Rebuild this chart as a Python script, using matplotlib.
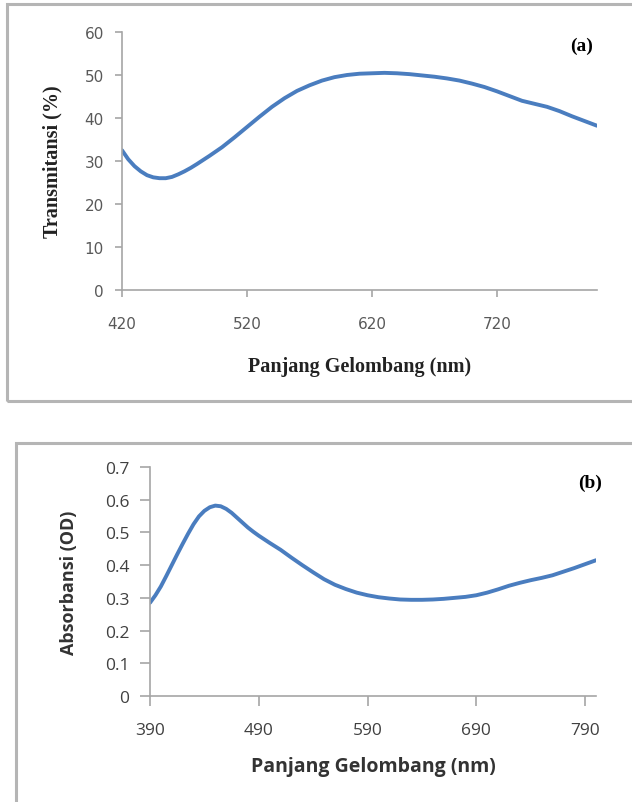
import matplotlib
matplotlib.use("Agg")
from matplotlib import pyplot as plt
from matplotlib.patches import Rectangle

# (a) transmitansi vs panjang gelombang
wl_a = [420, 425, 430, 435, 440, 445, 450, 455, 460, 465, 470, 475, 480, 490,
        500, 510, 520, 530, 540, 550, 560, 570, 580, 590, 600, 610, 620, 630,
        640, 650, 660, 670, 680, 690, 700, 710, 720, 730, 740, 750, 760, 770,
        780, 790, 800]
trans = [32.5, 30.4, 28.8, 27.6, 26.7, 26.2, 26.0, 26.0, 26.3, 26.9, 27.6, 28.4,
         29.3, 31.2, 33.2, 35.5, 37.9, 40.3, 42.6, 44.6, 46.3, 47.6, 48.7, 49.5,
         50.0, 50.3, 50.4, 50.5, 50.4, 50.2, 49.9, 49.6, 49.2, 48.7, 48.0, 47.2,
         46.2, 45.1, 44.0, 43.3, 42.6, 41.6, 40.4, 39.3, 38.2]
xticks_a = [420, 520, 620, 720]
yticks_a = [0, 10, 20, 30, 40, 50, 60]

# (b) absorbansi vs panjang gelombang
wl_b = [390, 395, 400, 405, 410, 415, 420, 425, 430, 435, 440, 445, 450, 455,
        460, 465, 470, 475, 480, 485, 490, 495, 500, 510, 520, 530, 540, 550,
        560, 570, 580, 590, 600, 610, 620, 630, 640, 650, 660, 670, 680, 690,
        700, 710, 720, 730, 740, 750, 760, 770, 780, 790, 800]
absorb = [0.285, 0.308, 0.335, 0.367, 0.400, 0.433, 0.465, 0.496, 0.525, 0.549,
          0.566, 0.577, 0.582, 0.580, 0.572, 0.560, 0.545, 0.530, 0.515, 0.502,
          0.490, 0.479, 0.468, 0.447, 0.423, 0.400, 0.378, 0.357, 0.340, 0.327,
          0.316, 0.308, 0.302, 0.298, 0.295, 0.294, 0.294, 0.295, 0.297, 0.300,
          0.303, 0.308, 0.316, 0.326, 0.337, 0.346, 0.354, 0.361, 0.369, 0.380,
          0.391, 0.403, 0.415]
xticks_b = [390, 490, 590, 690, 790]
yticks_b = [0, 0.1, 0.2, 0.3, 0.4, 0.5, 0.6, 0.7]
ylabels_b = ["0", "0.1", "0.2", "0.3", "0.4", "0.5", "0.6", "0.7"]

W, H = 632, 803
fig = plt.figure(figsize=(W / 100, H / 100), dpi=100)

def px_rect(left, top, right, bottom):
    # pixel box -> figure fraction
    return [left / W, 1 - bottom / H, (right - left) / W, (bottom - top) / H]

# panel frames
for (l, t, r, b) in [(7, 5, 640, 402), (16, 444, 640, 820)]:
    fig.patches.append(Rectangle((l / W, 1 - b / H), (r - l) / W, (b - t) / H,
                                 transform=fig.transFigure, fill=False,
                                 edgecolor="#b5b5b5", linewidth=2.2))

blue = "#4a7dbf"
axis_col = "#a6a6a6"

# ---- panel (a)
ax1 = fig.add_axes(px_rect(122, 33, 597, 291))
ax1.plot(wl_a, trans, color=blue, linewidth=2.8, solid_capstyle="round")
ax1.set_xlim(420, 800)
ax1.set_ylim(0, 60)
ax1.set_xticks(xticks_a)
ax1.set_yticks(yticks_a)
for s in ["top", "right"]:
    ax1.spines[s].set_visible(False)
for s in ["left", "bottom"]:
    ax1.spines[s].set_color(axis_col)
    ax1.spines[s].set_linewidth(1.2)
ax1.tick_params(axis="both", colors=axis_col, length=5, width=1.2,
                labelcolor="#595959", labelsize=11)
ax1.tick_params(axis="x", pad=14)
ax1.tick_params(axis="y", pad=8)
ax1.set_xlabel("Panjang Gelombang (nm)", family="Liberation Serif",
               fontweight="bold", fontsize=14.5, color="#222222", labelpad=18)
ax1.set_ylabel("Transmitansi (%)", family="Liberation Serif",
               fontweight="bold", fontsize=14.5, color="#222222", labelpad=16)
ax1.text(582 / W, 1 - 46 / H, "(a)", transform=fig.transFigure, ha="center",
         va="center", family="Liberation Serif", fontweight="bold", fontsize=14)

# ---- panel (b)
ax2 = fig.add_axes(px_rect(150, 468, 596, 697))
ax2.plot(wl_b, absorb, color=blue, linewidth=2.8, solid_capstyle="round")
ax2.set_xlim(390, 800)
ax2.set_ylim(0, 0.7)
ax2.set_xticks(xticks_b)
ax2.set_yticks(yticks_b)
ax2.set_yticklabels(ylabels_b)
for s in ["top", "right"]:
    ax2.spines[s].set_visible(False)
for s in ["left", "bottom"]:
    ax2.spines[s].set_color(axis_col)
    ax2.spines[s].set_linewidth(1.2)
ax2.tick_params(axis="both", colors=axis_col, length=7, width=1.2,
                labelcolor="#404040", labelsize=12.5)
ax2.tick_params(axis="x", pad=12)
ax2.tick_params(axis="y", pad=8)
for lab in ax2.get_xticklabels() + ax2.get_yticklabels():
    lab.set_family("Open Sans")
ax2.set_xlabel("Panjang Gelombang (nm)", family="Open Sans", fontweight="bold",
               fontsize=14, color="#333333", labelpad=13)
ax2.set_ylabel("Absorbansi (OD)", family="Open Sans", fontweight="bold",
               fontsize=13, color="#333333", labelpad=19)
ax2.text(590 / W, 1 - 483 / H, "(b)", transform=fig.transFigure, ha="center",
         va="center", family="Liberation Serif", fontweight="bold", fontsize=14)

fig.savefig("out.png", dpi=100, facecolor="white")
